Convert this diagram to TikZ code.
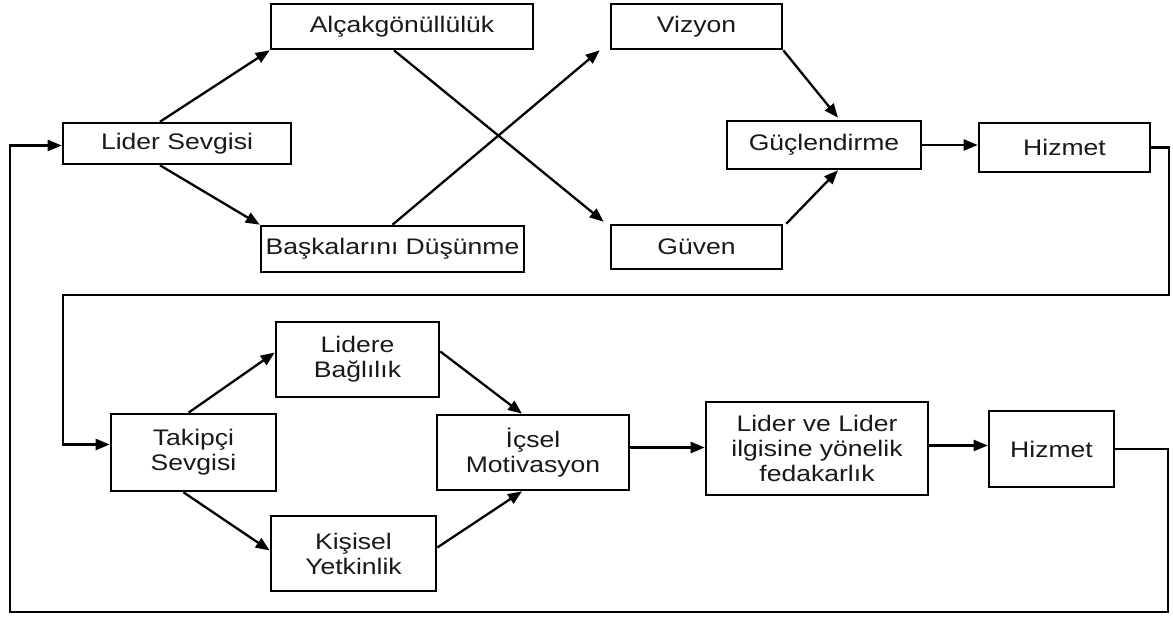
\documentclass[tikz,border=0pt]{standalone}
\usepackage{fontspec}
\setmainfont{Liberation Sans}[FakeStretch=1.18]
\usetikzlibrary{arrows.meta}
\begin{document}
\begin{tikzpicture}[x=1pt,y=-1pt,
  box/.style={draw, line width=2.6pt, rectangle, inner sep=0pt, align=center,
    font=\fontsize{22.5}{25}\selectfont, text=black!90},
  conn/.style={line width=2.3pt, -{Triangle[length=14pt,width=11pt]}}]
\useasboundingbox (0,0) rectangle (1173,616);
% top row
\node[box, minimum width=262pt, minimum height=45pt] (alc) at (402,26.5) {Alçakgönüllülük};
\node[box, minimum width=171pt, minimum height=45pt] (viz) at (696.5,26.5) {Vizyon};
\node[box, minimum width=228pt, minimum height=41pt] (lid) at (177,143.5) {Lider Sevgisi};
\node[box, minimum width=194pt, minimum height=48pt] (guc) at (824,145) {Güçlendirme};
\node[box, minimum width=171pt, minimum height=49pt] (hiz1) at (1064.5,147.5) {Hizmet};
\node[box, minimum width=263pt, minimum height=46pt] (bas) at (392.5,249) {Başkalarını Düşünme};
\node[box, minimum width=171pt, minimum height=44pt] (guv) at (696.5,247) {Güven};
% bottom row
\node[box, minimum width=165pt, minimum height=77pt] (tak) at (193.5,452.5) {Takipçi\\Sevgisi};
\node[box, minimum width=163pt, minimum height=75pt] (lb) at (357.5,359.5) {Lidere\\Bağlılık};
\node[box, minimum width=165pt, minimum height=75pt] (ky) at (353.5,553.5) {Kişisel\\Yetkinlik};
\node[box, minimum width=192pt, minimum height=75pt] (ic) at (533,452.5) {İçsel\\Motivasyon};
\node[box, minimum width=222pt, minimum height=93pt] (lv) at (817,448.5) {Lider ve Lider\\ilgisine yönelik\\fedakarlık};
\node[box, minimum width=125pt, minimum height=76pt] (hiz2) at (1051.5,449) {Hizmet};
% loop corners and connector ends
\coordinate (c1) at (1169,295);
\coordinate (c2) at (63,295);
\coordinate (c3) at (1168,612);
\coordinate (c4) at (10,612);
\coordinate (icout) at ([yshift=5pt]ic.east);
\coordinate (lvout) at ([yshift=3pt]lv.east);
% top connectors
\draw[conn] ([xshift=-17pt]lid.north) -- (alc.south west);
\draw[conn] ([xshift=-17pt]lid.south) -- (bas.north west);
\draw[conn] ([xshift=-8pt]alc.south) -- ([xshift=-6pt,yshift=2pt]guv.north west);
\draw[conn] (bas.north) -- ([xshift=-10pt]viz.south west);
\draw[conn] (viz.south east) -- ([xshift=14pt,yshift=2pt]guc.north);
\draw[conn] ([xshift=3pt]guv.north east) -- ([xshift=14pt]guc.south);
\draw[conn] (guc.east) -- (hiz1.west |- guc.east);
\draw[conn] (hiz1.east) -| (c1) -- (c2) |- ([yshift=8pt]tak.west);
% bottom connectors
\draw[conn] ([xshift=-5pt]tak.north) -- ([yshift=7pt]lb.west);
\draw[conn] ([xshift=-10pt]tak.south) -- ([yshift=3pt]ky.west);
\draw[conn] ([yshift=8pt]lb.east) -- ([xshift=-11pt]ic.north);
\draw[conn] ([yshift=6pt]ky.east) -- ([xshift=-11pt]ic.south);
\draw[conn] (icout) -- (lv.west |- icout);
\draw[conn] (lvout) -- (hiz2.west |- lvout);
\draw[conn] (hiz2.east) -| (c3) -- (c4) |- ([yshift=-2pt]lid.west);
\end{tikzpicture}
\end{document}
